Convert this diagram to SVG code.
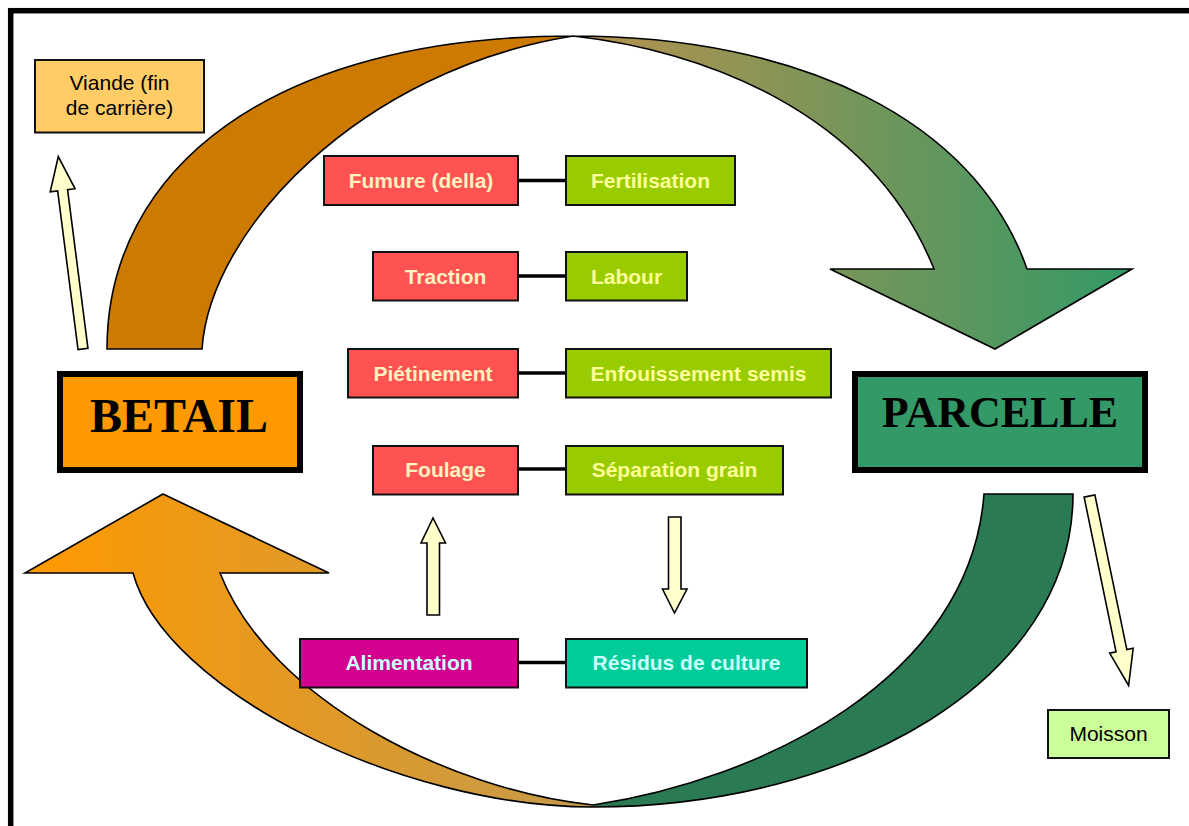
<svg xmlns="http://www.w3.org/2000/svg" width="1189" height="826" viewBox="0 0 1189 826">
  <defs>
    <linearGradient id="gradTop" gradientUnits="userSpaceOnUse" x1="107" y1="0" x2="1132" y2="0">
      <stop offset="0" stop-color="#CC7A00"/>
      <stop offset="0.455" stop-color="#CC7A00"/>
      <stop offset="0.456" stop-color="#B8924E"/>
      <stop offset="1" stop-color="#339966"/>
    </linearGradient>
    <linearGradient id="gradBottom" gradientUnits="userSpaceOnUse" x1="25" y1="0" x2="1073" y2="0">
      <stop offset="0" stop-color="#FF9900"/>
      <stop offset="0.542" stop-color="#C49A4C"/>
      <stop offset="0.543" stop-color="#2A7B54"/>
      <stop offset="1" stop-color="#2A7B54"/>
    </linearGradient>
    <style>
      .frame { fill: none; stroke: #000; stroke-width: 5.5; }
      .cycle { stroke: #000; stroke-width: 1.6; stroke-linejoin: miter; }
      .small-arrow { fill: #FFFFCC; stroke: #000; stroke-width: 1.6; }
      .box { stroke: #111; stroke-width: 2; }
      .main { stroke: #000; stroke-width: 6; }
      .red { fill: #FF5353; }
      .green { fill: #99CC00; }
      .label { font-family: "Liberation Sans", Arial, sans-serif; font-size: 21px; font-weight: bold; text-anchor: middle; fill: #FFFF99; }
      .label-cream { fill: #FFF2C0; }
      .label-cyan { fill: #CCFFFF; }
      .plain { font-family: "Liberation Sans", Arial, sans-serif; font-size: 21px; text-anchor: middle; fill: #000; }
      .title { font-family: "Liberation Serif", "Times New Roman", serif; font-weight: bold; text-anchor: middle; fill: #000; }
      .link { stroke: #000; stroke-width: 3.5; }
    </style>
  </defs>

  <rect class="frame" x="10.7" y="10.7" width="1200" height="830"/>

  <!-- big cycle arrows -->
  <g id="cycle-arrows">
    <path id="arrow-top" class="cycle" fill="url(#gradTop)"
      d="M107,349 C107,170 270,36 573,36 C800,36 975,120 1027,269 L1132,269 L995,349 L830,269 L934,269 C870,110 700,50 573,36 C360,70 210,230 202,349 Z"/>
    <path id="arrow-bottom" class="cycle" fill="url(#gradBottom)"
      d="M163,494 L329,573 L220,573 C270,700 450,790 593,805 C760,780 970,680 984,494 L1073,494 C1073,680 850,807 593,807 C400,807 165,690 133,573 L25,573 Z"/>
  </g>

  <!-- connectors -->
  <g id="connectors">
    <line class="link" x1="518" y1="180.5" x2="566" y2="180.5"/>
    <line class="link" x1="518" y1="276" x2="566" y2="276"/>
    <line class="link" x1="518" y1="373" x2="566" y2="373"/>
    <line class="link" x1="518" y1="469" x2="566" y2="469"/>
    <line class="link" x1="518" y1="662.5" x2="566" y2="662.5"/>
    <!-- Viande -->
    <path class="small-arrow" transform="translate(83,349) rotate(-7.32)"
      d="M-5,0 L-5,-160 L-12.5,-160 L0,-194 L12.5,-160 L5,-160 L5,0 Z"/>
    <!-- Moisson -->
    <path class="small-arrow" transform="translate(1089.5,496) rotate(-11.66)"
      d="M-5.5,0 L5.5,0 L5.5,158 L12,158 L0,193.5 L-12,158 L-5.5,158 Z"/>
    <!-- Alimentation up -->
    <path class="small-arrow" d="M427,615 L427,543 L421,543 L433,518 L445.5,543 L439.5,543 L439.5,615 Z"/>
    <!-- down to Résidus -->
    <path class="small-arrow" d="M668.5,517 L681,517 L681,589 L687,589 L674.5,613 L662.5,589 L668.5,589 Z"/>
  </g>

  <g id="viande">
    <rect class="box" x="35" y="60" width="169" height="72.5" fill="#FFCC66"/>
    <text class="plain" x="119.5" y="90">Viande (fin</text>
    <text class="plain" x="119.5" y="114.5">de carrière)</text>
  </g>

  <g id="betail">
    <rect class="main" x="60" y="374" width="240" height="96" fill="#FF9900"/>
    <text class="title" x="179" y="432" font-size="48">BETAIL</text>
  </g>

  <g id="parcelle">
    <rect class="main" x="855" y="374" width="290" height="96" fill="#339966"/>
    <text class="title" x="1000" y="427" font-size="44">PARCELLE</text>
  </g>

  <g id="moisson">
    <rect class="box" x="1048" y="710" width="121" height="48" fill="#CCFF99"/>
    <text class="plain" x="1108.5" y="741">Moisson</text>
  </g>

  <g id="fumure">
    <rect class="box red" x="324" y="156" width="194" height="49"/>
    <text class="label label-cream" x="421" y="188">Fumure (della)</text>
  </g>
  <g id="fertilisation">
    <rect class="box green" x="566" y="156" width="169" height="49"/>
    <text class="label" x="650.5" y="188">Fertilisation</text>
  </g>

  <g id="traction">
    <rect class="box red" x="373" y="252" width="145" height="48.5"/>
    <text class="label label-cream" x="445.5" y="283.5">Traction</text>
  </g>
  <g id="labour">
    <rect class="box green" x="566" y="252" width="121" height="48.5"/>
    <text class="label" x="626.5" y="283.5">Labour</text>
  </g>

  <g id="pietinement">
    <rect class="box red" x="348" y="349" width="170" height="48.5"/>
    <text class="label label-cream" x="433" y="380.5">Piétinement</text>
  </g>
  <g id="enfouissement">
    <rect class="box green" x="566" y="349" width="265" height="48.5"/>
    <text class="label" x="698.5" y="380.5">Enfouissement semis</text>
  </g>

  <g id="foulage">
    <rect class="box red" x="373" y="446" width="145" height="48.5"/>
    <text class="label label-cream" x="445.5" y="477">Foulage</text>
  </g>
  <g id="separation">
    <rect class="box green" x="566" y="446" width="217" height="48.5"/>
    <text class="label" x="674.5" y="477">Séparation grain</text>
  </g>

  <g id="alimentation">
    <rect class="box" x="300" y="639" width="218" height="48.5" fill="#D4008F"/>
    <text class="label label-cyan" x="409" y="670">Alimentation</text>
  </g>
  <g id="residus">
    <rect class="box" x="566" y="639" width="241" height="48.5" fill="#00CC99"/>
    <text class="label label-cyan" x="686.5" y="670">Résidus de culture</text>
  </g>
</svg>
